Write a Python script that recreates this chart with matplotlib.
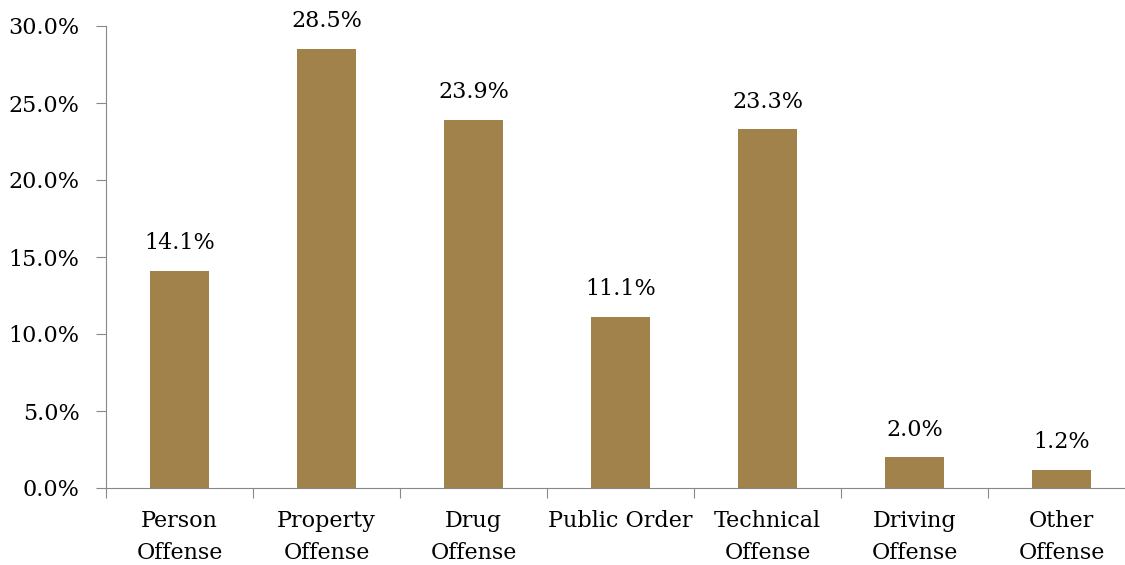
import matplotlib
matplotlib.use("Agg")
import matplotlib.pyplot as plt
import numpy as np

categories = ["Person\nOffense", "Property\nOffense", "Drug\nOffense", "Public Order",
              "Technical\nOffense", "Driving\nOffense", "Other\nOffense"]
values = [14.1, 28.5, 23.9, 11.1, 23.3, 2.0, 1.2]
yticks = [0, 5, 10, 15, 20, 25, 30]

plt.rcParams['font.family'] = ['DejaVu Serif']
FS = 16

W, H = 1125, 565
fig = plt.figure(figsize=(W / 100, H / 100), dpi=100)
# axis runs past the right edge of the canvas, like the source
left, right, top, bottom = 106, 1135, 26, 488
ax = fig.add_axes([left / W, 1 - bottom / H, (right - left) / W, (bottom - top) / H])

x = np.arange(len(categories))
ax.bar(x, values, width=0.4, color='#A0824A')
for xi, v in zip(x, values):
    ax.annotate(f"{v:.1f}%", (xi, v), xytext=(0, 12), textcoords='offset points',
                ha='center', va='bottom', fontsize=FS)

ax.set_xlim(-0.5, len(categories) - 0.5)
ax.set_ylim(0, 30)
ax.set_yticks(yticks)
ax.set_yticklabels([f"{t:.1f}%" for t in yticks], fontsize=FS)

ax.set_xticks(np.arange(len(categories) + 1) - 0.5)
ax.set_xticklabels([])
ax.set_xticks(x, minor=True)
ax.set_xticklabels(categories, minor=True, fontsize=FS, linespacing=1.6)
ax.tick_params(axis='x', which='minor', length=0, pad=16)
ax.tick_params(axis='x', which='major', length=7, color='#888888', direction='out')
ax.tick_params(axis='y', length=7, color='#888888', pad=12)

for s in ['top', 'right']:
    ax.spines[s].set_visible(False)
for s in ['left', 'bottom']:
    ax.spines[s].set_color('#888888')

fig.savefig("out.png", dpi=100)
